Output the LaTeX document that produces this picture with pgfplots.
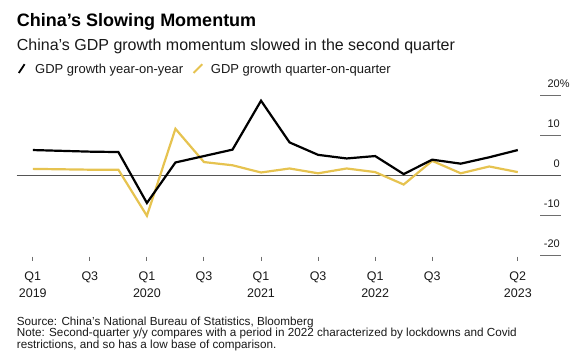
\documentclass[border=0pt]{standalone}
\usepackage{fontspec}
\setmainfont{Liberation Sans}
\usepackage{pgfplots}
\pgfplotsset{compat=1.18}
\definecolor{ylw}{RGB}{230,195,80}
\definecolor{zline}{RGB}{85,85,85}
\definecolor{tickg}{RGB}{110,110,110}
\definecolor{txt}{RGB}{25,25,25}

\begin{document}
\begin{tikzpicture}
\path[use as bounding box] (0pt,0pt) rectangle (579pt,357pt);
\node[anchor=base west, inner sep=0pt, font=\fontsize{18}{20}\selectfont\bfseries] at (16.7pt,330.3pt) {China's Slowing Momentum};
\node[anchor=base west, inner sep=0pt, text=txt, font=\fontsize{16}{18}\selectfont] at (16.7pt,306.3pt) {China's GDP growth momentum slowed in the second quarter};
\draw[black, line width=1.8pt] (18.8pt,284pt) -- (24.6pt,292.8pt);
\node[anchor=base west, inner sep=0pt, text=txt, font=\fontsize{13}{15}\selectfont] at (35pt,283.7pt) {GDP growth year-on-year};
\draw[ylw, line width=1.8pt] (193.5pt,284pt) -- (202.3pt,292.8pt);
\node[anchor=base west, inner sep=0pt, text=txt, font=\fontsize{13}{15}\selectfont] at (210.7pt,283.7pt) {GDP growth quarter-on-quarter};
\node[anchor=base west, inner sep=0pt, text=txt, font=\fontsize{11.7}{13}\selectfont] at (16.7pt,32pt) {Source: China's National Bureau of Statistics, Bloomberg};
\node[anchor=base west, inner sep=0pt, text=txt, font=\fontsize{11.7}{13}\selectfont] at (16.7pt,20.3pt) {Note: Second-quarter y/y compares with a period in 2022 characterized by lockdowns and Covid};
\node[anchor=base west, inner sep=0pt, text=txt, font=\fontsize{11.7}{13}\selectfont] at (16.7pt,8.7pt) {restrictions, and so has a low base of comparison.};

% y tick labels
\begin{axis}[
  at={(16.7pt,101.1pt)}, anchor=south west, scale only axis,
  width=544.3pt, height=160.4pt,
  xmin=-0.564, xmax=18.514, ymin=-20, ymax=20,
  axis x line=none, axis y line*=right,
  y axis line style={draw=none},
  ytick={-20,-10,0,10,20},
  yticklabels={-20,-10,0,10,20\rlap{\%}},
  tick align=inside, major tick length=20.5pt,
  ytick style={draw=none},
  yticklabel style={anchor=base east, inner sep=0pt, text=txt, font=\fontsize{11}{13}\selectfont, yshift=8.2pt, xshift=-1pt},
]
\end{axis}

\begin{axis}[
  at={(16.7pt,101.1pt)}, anchor=south west, scale only axis,
  width=544.3pt, height=160.4pt,
  xmin=-0.564, xmax=18.514, ymin=-20, ymax=20,
  axis y line=none, axis x line*=bottom,
  x axis line style={draw=none},
  xtick={0,2,4,6,8,10,12,14,17},
  xticklabels={Q1\\2019, Q3, Q1\\2020, Q3, Q1\\2021, Q3, Q1\\2022, Q3, Q2\\2023},
  xticklabel style={align=center, anchor=north, inner sep=0pt, text=txt, font=\fontsize{12.5}{16.7}\selectfont, yshift=-11.5pt},
  tick align=outside, major tick length=4pt,
  xtick style={draw=none},
  clip=false,
]
% y tick lines at the right
\addplot[tickg, line width=1pt, forget plot] coordinates {(17.795,20) (18.514,20)};
\addplot[tickg, line width=1pt, forget plot] coordinates {(17.795,10) (18.514,10)};
\addplot[tickg, line width=1pt, forget plot] coordinates {(17.795,-10) (18.514,-10)};
\addplot[tickg, line width=1pt, forget plot] coordinates {(17.795,-20) (18.514,-20)};
% x tick marks below the plot area
\addplot[tickg, line width=1pt, forget plot] coordinates {(0,-20.2) (0,-21.2)};
\addplot[tickg, line width=1pt, forget plot] coordinates {(2,-20.2) (2,-21.2)};
\addplot[tickg, line width=1pt, forget plot] coordinates {(4,-20.2) (4,-21.2)};
\addplot[tickg, line width=1pt, forget plot] coordinates {(6,-20.2) (6,-21.2)};
\addplot[tickg, line width=1pt, forget plot] coordinates {(8,-20.2) (8,-21.2)};
\addplot[tickg, line width=1pt, forget plot] coordinates {(10,-20.2) (10,-21.2)};
\addplot[tickg, line width=1pt, forget plot] coordinates {(12,-20.2) (12,-21.2)};
\addplot[tickg, line width=1pt, forget plot] coordinates {(14,-20.2) (14,-21.2)};
\addplot[tickg, line width=1pt, forget plot] coordinates {(17,-20.2) (17,-21.2)};
% zero line
\addplot[zline, line width=1pt, forget plot] coordinates {(-0.564,0) (18.514,0)};
\addplot[ylw, line width=2.2pt, mark=none] coordinates {
(0,1.7) (1,1.6) (2,1.5) (3,1.5) (4,-10.0) (5,11.7) (6,3.4) (7,2.6)
(8,0.8) (9,1.8) (10,0.6) (11,1.8) (12,0.9) (13,-2.2) (14,3.7) (15,0.6)
(16,2.3) (17,0.9)};
\addplot[black, line width=2.2pt, mark=none] coordinates {
(0,6.4) (1,6.2) (2,6.0) (3,5.9) (4,-6.8) (5,3.3) (6,4.9) (7,6.5)
(8,18.7) (9,8.3) (10,5.2) (11,4.3) (12,4.9) (13,0.4) (14,4.0) (15,3.0)
(16,4.6) (17,6.4)};
\end{axis}
\end{tikzpicture}
\end{document}
